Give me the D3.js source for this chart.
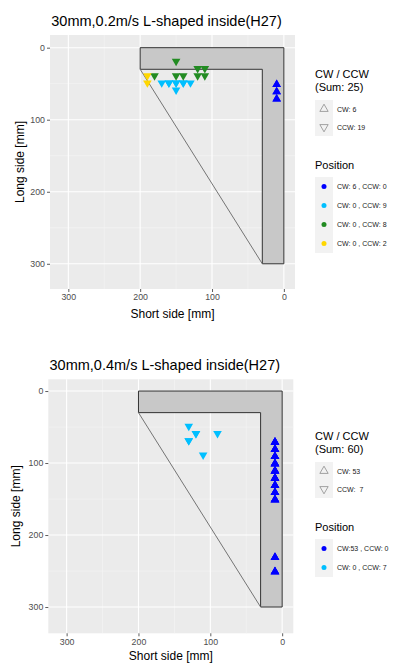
<!DOCTYPE html>
<html><head><meta charset="utf-8">
<script src="https://cdn.jsdelivr.net/npm/d3@7"></script>
<style>body{margin:0;background:#fff}svg{display:block}text{font-family:"Liberation Sans",Arial,sans-serif;white-space:pre}</style>
</head><body><svg id="c" width="395" height="664"></svg>
<script>
// ---- data ----
const titles = ["30mm,0.2m/s L-shaped inside(H27)", "30mm,0.4m/s L-shaped inside(H27)"];
const sums = [25, 60];
const xTicks = [300, 200, 100, 0];
const yTicks = [0, 100, 200, 300];
const shapeOuter = [[0,0],[200,0],[200,30],[30,30],[30,300],[0,300]];
const diagonal = [[200,30],[30,300]];
const dirLabels1 = ["CW: 6", "CCW: 19"];
const dirLabels2 = ["CW: 53", "CCW:  7"];
const posLabels1 = ["CW: 6 , CCW: 0", "CW: 0 , CCW: 9", "CW: 0 , CCW: 8", "CW: 0 , CCW: 2"];
const posLabels2 = ["CW:53 , CCW: 0", "CW: 0 , CCW: 7"];
const posColors1 = ["#0000FF", "#00BFFF", "#228B22", "#FFD700"];
const posColors2 = ["#0000FF", "#00BFFF"];
// points: [short, long, direction, group, count]
const points1 = [
  [10,50,"CW",0,2],[10,60,"CW",0,2],[10,70,"CW",0,2],
  [170,50,"CCW",1,1],[160,50,"CCW",1,2],[150,50,"CCW",1,2],[140,50,"CCW",1,2],[130,50,"CCW",1,1],[150,60,"CCW",1,1],
  [150,20,"CCW",2,1],[180,40,"CCW",2,1],[150,40,"CCW",2,1],[140,40,"CCW",2,1],[120,30,"CCW",2,1],[110,30,"CCW",2,1],[120,40,"CCW",2,1],[110,40,"CCW",2,1],
  [190,40,"CCW",3,1],[190,50,"CCW",3,1]
];
const points2 = [
  [10,70,"CW",0,5],[10,80,"CW",0,5],[10,90,"CW",0,5],[10,100,"CW",0,5],[10,110,"CW",0,5],[10,120,"CW",0,5],[10,130,"CW",0,5],[10,140,"CW",0,5],[10,150,"CW",0,5],[10,230,"CW",0,4],[10,250,"CW",0,4],
  [130,50,"CCW",1,1],[120,60,"CCW",1,2],[90,60,"CCW",1,1],[130,70,"CCW",1,2],[110,90,"CCW",1,1]
];

const svg = d3.select("#c");
const panels = [
  {title:titles[0], sum:sums[0], pts:points1, dir:dirLabels1, pos:posLabels1, col:posColors1,
   xr:[50,295], yr:[35,289], yd:[-17.6,335], titleY:26, xlabY:318, ylabX:20, legY:78},
  {title:titles[1], sum:sums[1], pts:points2, dir:dirLabels2, pos:posLabels2, col:posColors2,
   xr:[48.3,293.3], yr:[379.3,633.3], yd:[-16.3,336.5], titleY:370, xlabY:660, ylabX:16, legY:440}
];

panels.forEach(p => {
  const x = d3.scaleLinear().domain([325.5,-15.5]).range(p.xr);
  const y = d3.scaleLinear().domain(p.yd).range(p.yr);
  const g = svg.append("g");
  g.append("rect").attr("x",p.xr[0]).attr("y",p.yr[0]).attr("width",p.xr[1]-p.xr[0]).attr("height",p.yr[1]-p.yr[0]).attr("fill","#EBEBEB");
  [50,150,250].forEach(v=>{
    g.append("line").attr("x1",x(v)).attr("x2",x(v)).attr("y1",p.yr[0]).attr("y2",p.yr[1]).attr("stroke","#F5F5F5").attr("stroke-width",0.6);
    g.append("line").attr("y1",y(v)).attr("y2",y(v)).attr("x1",p.xr[0]).attr("x2",p.xr[1]).attr("stroke","#F5F5F5").attr("stroke-width",0.6);
  });
  xTicks.forEach(v=>g.append("line").attr("x1",x(v)).attr("x2",x(v)).attr("y1",p.yr[0]).attr("y2",p.yr[1]).attr("stroke","#fff").attr("stroke-width",1.1));
  yTicks.forEach(v=>g.append("line").attr("y1",y(v)).attr("y2",y(v)).attr("x1",p.xr[0]).attr("x2",p.xr[1]).attr("stroke","#fff").attr("stroke-width",1.1));
  const xa = g.append("g").attr("transform",`translate(0,${p.yr[1]})`).call(d3.axisBottom(x).tickValues(xTicks).tickSize(3).tickPadding(2));
  const ya = g.append("g").attr("transform",`translate(${p.xr[0]},0)`).call(d3.axisLeft(y).tickValues(yTicks).tickSize(3).tickPadding(2));
  [xa,ya].forEach(a=>{a.select(".domain").remove();a.selectAll("line").attr("stroke","#333").attr("stroke-width",0.8);a.selectAll("text").attr("fill","#4D4D4D").style("font-size","8.8px").style("font-family","Liberation Sans, Arial, sans-serif");});
  g.append("path").attr("d",d3.line().x(d=>x(d[0])).y(d=>y(d[1]))(shapeOuter)+"Z").attr("fill","#C8C8C8").attr("stroke","#333").attr("stroke-width",1);
  g.append("path").attr("d",d3.line().x(d=>x(d[0])).y(d=>y(d[1]))(diagonal)).attr("fill","none").attr("stroke","#666").attr("stroke-width",0.9);
  const tri = d3.symbol().type(d3.symbolTriangle).size(32);
  const expanded = [];
  p.pts.forEach(d=>{for(let i=0;i<d[4];i++) expanded.push(d);});
  g.selectAll(".pt").data(expanded).join("path").attr("class","pt").attr("d",tri)
    .attr("transform",d=>`translate(${x(d[0])},${y(d[1]) + (d[2]==="CW"?0.8:-0.8)}) rotate(${d[2]==="CW"?0:180})`)
    .attr("fill",d=>p.col[d[3]]);
  g.append("text").attr("x",(p.xr[0]+p.xr[1])/2 - 6).attr("y",p.titleY).attr("text-anchor","middle").style("font-size","14.5px").attr("fill","#000").text(p.title);
  g.append("text").attr("x",(p.xr[0]+p.xr[1])/2).attr("y",p.xlabY).attr("text-anchor","middle").style("font-size","12px").attr("fill","#000").text("Short side [mm]");
  g.append("text").attr("transform",`translate(${p.ylabX},${(p.yr[0]+p.yr[1])/2}) rotate(-90)`).attr("text-anchor","middle").attr("dy","0.35em").style("font-size","12px").attr("fill","#000").text("Long side [mm]");
  const lx = 315;
  const L = g.append("g");
  L.append("text").attr("x",lx).attr("y",p.legY).style("font-size","11px").text("CW / CCW");
  L.append("text").attr("x",lx).attr("y",p.legY+13).style("font-size","11px").text(`(Sum: ${p.sum})`);
  const k0 = p.legY + 22;
  p.dir.forEach((t,i)=>{
    const ky = k0 + i*18;
    L.append("rect").attr("x",lx).attr("y",ky).attr("width",18).attr("height",18).attr("fill","#F2F2F2");
    L.append("path").attr("d",d3.symbol().type(d3.symbolTriangle).size(30)).attr("transform",`translate(${lx+9},${ky+9}) rotate(${i===0?0:180})`).attr("fill","none").attr("stroke","#8C8C8C").attr("stroke-width",0.8);
    L.append("text").attr("x",lx+22).attr("y",ky+12).style("font-size","7px").attr("fill","#1A1A1A").text(t);
  });
  const py = k0 + 36 + 33;
  L.append("text").attr("x",lx).attr("y",py).style("font-size","11px").text("Position");
  p.pos.forEach((t,i)=>{
    const ky = py + 8 + i*19;
    L.append("rect").attr("x",lx).attr("y",ky).attr("width",18).attr("height",19).attr("fill","#F2F2F2");
    L.append("circle").attr("cx",lx+9).attr("cy",ky+9.5).attr("r",2.5).attr("fill",p.col[i]);
    L.append("text").attr("x",lx+22).attr("y",ky+12).style("font-size","7px").attr("fill","#1A1A1A").text(t);
  });
});
</script></body></html>
